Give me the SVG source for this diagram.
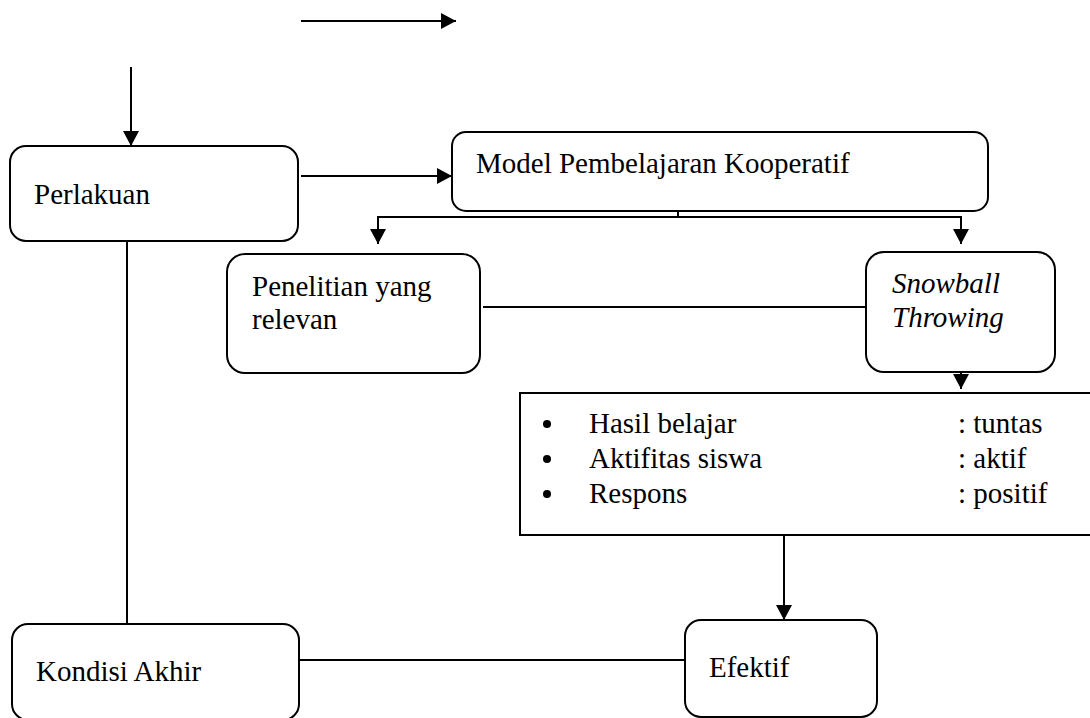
<svg xmlns="http://www.w3.org/2000/svg" width="1090" height="718" viewBox="0 0 1090 718">
<style>
.box{fill:#fff;stroke:#000;stroke-width:2}
.t{font-family:"Liberation Serif","Times New Roman",serif;font-size:29px;fill:#000}
.i{font-style:italic}
.c{fill:none;stroke:#000;stroke-width:2}
</style>
<defs>
<marker id="ah" markerUnits="userSpaceOnUse" markerWidth="16" markerHeight="16" refX="15" refY="8" orient="auto">
<path d="M0,0 L15,8 L0,16 z" fill="#000"/>
</marker>
</defs>
<rect width="1090" height="718" fill="#fff"/>
<g id="connectors">
<line class="c" x1="301" y1="21" x2="456" y2="21" marker-end="url(#ah)"/>
<line class="c" x1="131" y1="67" x2="131" y2="146" marker-end="url(#ah)"/>
<line class="c" x1="301" y1="176" x2="452" y2="176" marker-end="url(#ah)"/>
<polyline class="c" points="678,203 678,217"/>
<polyline class="c" points="378,244 378,217 961,217 961,244" marker-end="url(#ah)"/>
<line class="c" x1="378" y1="217" x2="378" y2="244" marker-end="url(#ah)"/>
<line class="c" x1="483" y1="307" x2="866" y2="307"/>
<line class="c" x1="961" y1="362" x2="961" y2="389" marker-end="url(#ah)"/>
<line class="c" x1="784" y1="528" x2="784" y2="620" marker-end="url(#ah)"/>
<line class="c" x1="127" y1="241" x2="127" y2="624"/>
<line class="c" x1="299" y1="660" x2="685" y2="660"/>
</g>
<g id="perlakuan">
<rect class="box" x="10" y="146" width="288" height="95" rx="16"/>
<text class="t" x="34" y="204">Perlakuan</text>
</g>
<g id="model">
<rect class="box" x="452" y="132" width="536" height="79" rx="14"/>
<text class="t" x="476" y="173">Model Pembelajaran Kooperatif</text>
</g>
<g id="penelitian">
<rect class="box" x="227" y="254" width="253" height="119" rx="18"/>
<text class="t" x="252" y="296">Penelitian yang</text>
<text class="t" x="252" y="329">relevan</text>
</g>
<g id="snowball">
<rect class="box" x="866" y="252" width="189" height="120" rx="18"/>
<text class="t i" x="892" y="293">Snowball</text>
<text class="t i" x="892" y="327">Throwing</text>
</g>
<g id="hasil">
<rect class="box" x="520" y="393" width="580" height="142"/>
<circle cx="547" cy="424" r="4"/>
<circle cx="547" cy="459" r="4"/>
<circle cx="547" cy="494" r="4"/>
<text class="t" x="589" y="433">Hasil belajar</text>
<text class="t" x="589" y="468">Aktifitas siswa</text>
<text class="t" x="589" y="503">Respons</text>
<text class="t" x="958" y="433">: tuntas</text>
<text class="t" x="958" y="468">: aktif</text>
<text class="t" x="958" y="503">: positif</text>
</g>
<g id="kondisi">
<rect class="box" x="12" y="624" width="287" height="96" rx="16"/>
<text class="t" x="36" y="681">Kondisi Akhir</text>
</g>
<g id="efektif">
<rect class="box" x="685" y="620" width="192" height="97" rx="16"/>
<text class="t" x="709" y="677">Efektif</text>
</g>
</svg>
